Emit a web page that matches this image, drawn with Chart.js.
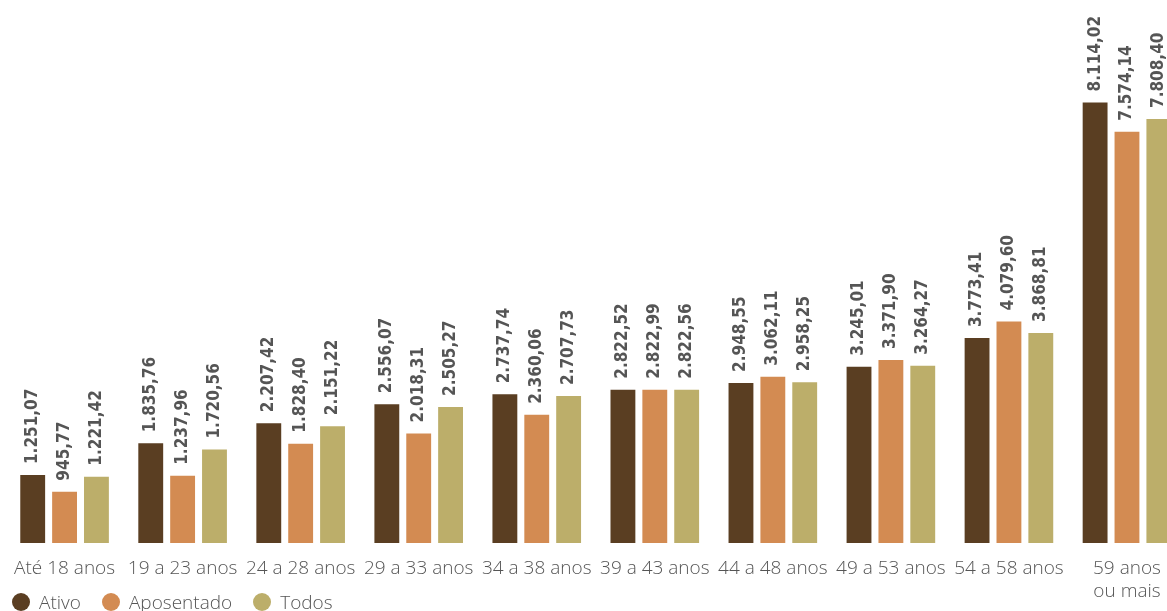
<!DOCTYPE html>
<html>
<head>
<meta charset="utf-8">
<script src="https://cdn.jsdelivr.net/npm/chart.js@4"></script>
<style>
  html, body { margin: 0; padding: 0; background: #fff; overflow: hidden; }
  #wrap { position: absolute; left: 0; top: 0; width: 1186px; height: 611px; }
  #legend { position: absolute; left: 12px; top: 590px; display: flex; gap: 21px;
            font: 300 19px "Open Sans", sans-serif; color: #555; line-height: 24px; }
  #legend .item { display: flex; align-items: center; }
  #legend .dot { width: 18px; height: 18px; border-radius: 50%; margin-right: 9px; }
</style>
</head>
<body>
<div id="wrap"><canvas id="chart"></canvas></div>
<div id="legend"></div>
<script>
const categories = ['Até 18 anos', '19 a 23 anos', '24 a 28 anos', '29 a 33 anos', '34 a 38 anos',
    '39 a 43 anos', '44 a 48 anos', '49 a 53 anos', '54 a 58 anos', ['59 anos', 'ou mais']];
const ativo = [1251.07, 1835.76, 2207.42, 2556.07, 2737.74, 2822.52, 2948.55, 3245.01, 3773.41, 8114.02];
const aposentado = [945.77, 1237.96, 1828.40, 2018.31, 2360.06, 2822.99, 3062.11, 3371.90, 4079.60, 7574.14];
const todos = [1221.42, 1720.56, 2151.22, 2505.27, 2707.73, 2822.56, 2958.25, 3264.27, 3868.81, 7808.40];

// 1234.5 -> "1.234,50"
function fmt(v) {
    const parts = v.toFixed(2).split('.');
    return parts[0].replace(/\B(?=(\d{3})+(?!\d))/g, '.') + ',' + parts[1];
}

// vertical value labels above each bar
const valueLabels = {
    id: 'valueLabels',
    afterDatasetsDraw(chart) {
        const ctx = chart.ctx;
        ctx.save();
        ctx.font = 'bold 17px "DejaVu Sans Condensed", "DejaVu Sans"';
        ctx.fillStyle = '#555';
        ctx.textAlign = 'left';
        ctx.textBaseline = 'middle';
        chart.data.datasets.forEach((ds, i) => {
            chart.getDatasetMeta(i).data.forEach((bar, j) => {
                ctx.save();
                ctx.translate(bar.x, bar.y - 11);
                ctx.rotate(-Math.PI / 2);
                ctx.fillText(fmt(ds.data[j]), 0, 0);
                ctx.restore();
            });
        });
        ctx.restore();
    }
};

const ctx = document.getElementById('chart').getContext('2d');

const config = {
    type: 'bar',
    data: {
        labels: categories,
        datasets: [
            { label: 'Ativo', data: ativo, backgroundColor: '#5a3e22' },
            { label: 'Aposentado', data: aposentado, backgroundColor: '#d38b52' },
            { label: 'Todos', data: todos, backgroundColor: '#bcae6a' },
        ]
    },
    options: {
        responsive: true,
        maintainAspectRatio: false,
        animation: false,
        layout: { padding: { left: 1, right: 0, top: 0, bottom: 0 } },
        datasets: {
            bar: { barPercentage: 0.78, categoryPercentage: 0.81 }
        },
        plugins: {
            tooltip: { enabled: false },
            legend: { display: false }
        },
        scales: {
            x: {
                grid: { display: false, drawTicks: false },
                border: { display: false },
                ticks: {
                    color: '#555',
                    maxRotation: 0,
                    autoSkip: false,
                    padding: 14,
                    font: { family: '"Open Sans"', size: 19, weight: 300, lineHeight: 1.2 }
                },
                afterFit(scale) { scale.height = 68; }
            },
            y: {
                display: false,
                min: 0,
                max: 10000
            }
        }
    },
    plugins: [valueLabels]
};

const myChart = new Chart(ctx, config);

// legend as html, from the datasets
const legendEl = document.getElementById('legend');
myChart.data.datasets.forEach(ds => {
    const item = document.createElement('span');
    item.className = 'item';
    const dot = document.createElement('span');
    dot.className = 'dot';
    dot.style.background = ds.backgroundColor;
    item.appendChild(dot);
    item.appendChild(document.createTextNode(ds.label));
    legendEl.appendChild(item);
});
</script>
</body>
</html>
